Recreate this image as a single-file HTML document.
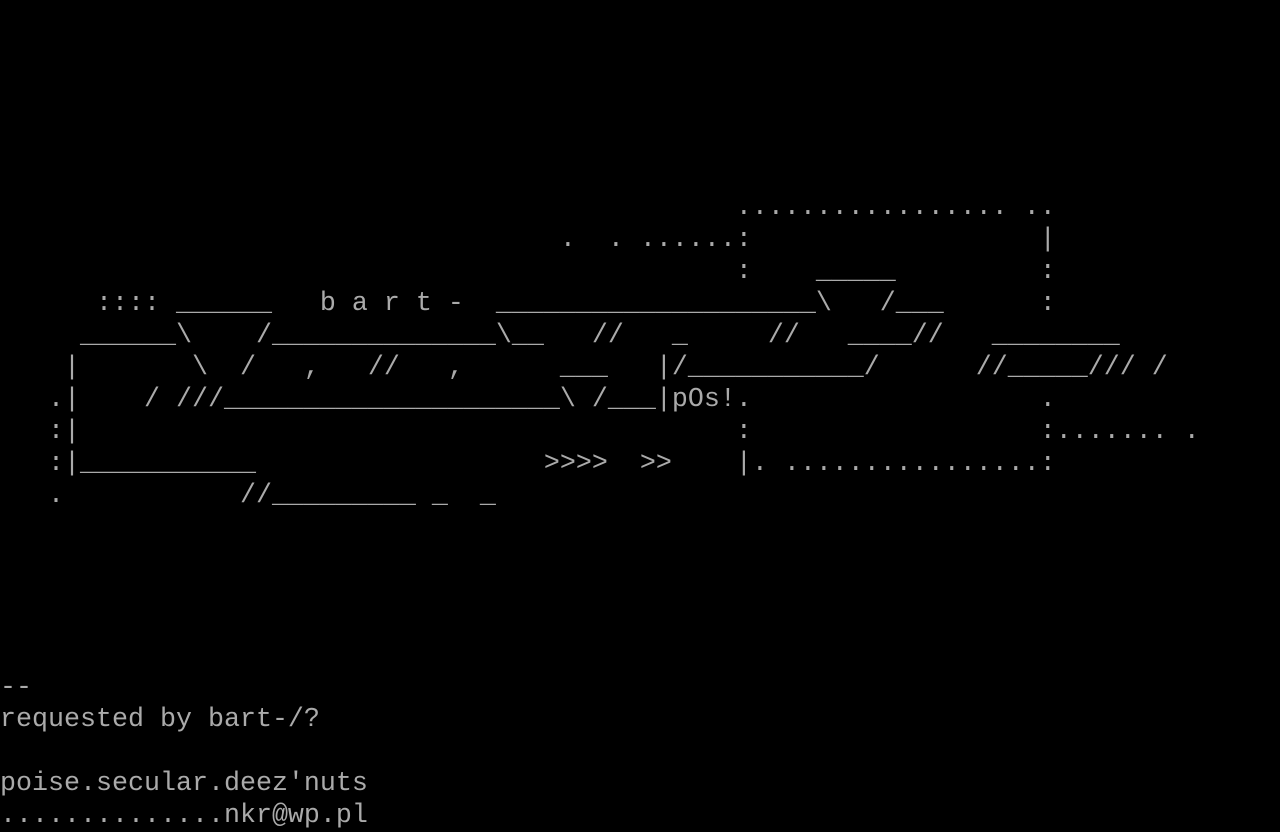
<!DOCTYPE html>
<html><head><meta charset="utf-8"><style>
html,body{margin:0;padding:0;background:#000;width:1280px;height:832px;overflow:hidden}
pre{margin:0;font-family:"Liberation Mono",monospace;font-size:26.67px;line-height:32px;color:#aaa;white-space:pre}
</style></head><body><pre>






                                              ................. ..
                                   .  . ......:                  |
                                              :    _____         :
      :::: ______   b a r t -  ____________________\   /___      :
     ______\    /______________\__   //   _     //   ____//   ________
    |       \  /   ,   //   ,      ___   |/___________/      //_____/// /
   .|    / ///_____________________\ /___|pOs!.                  .
   :|                                         :                  :....... .
   :|___________                  &gt;&gt;&gt;&gt;  &gt;&gt;    |. ................:
   .           //_________ _  _





--
requested by bart-/?

poise.secular.deez'nuts
..............nkr@wp.pl</pre></body></html>
